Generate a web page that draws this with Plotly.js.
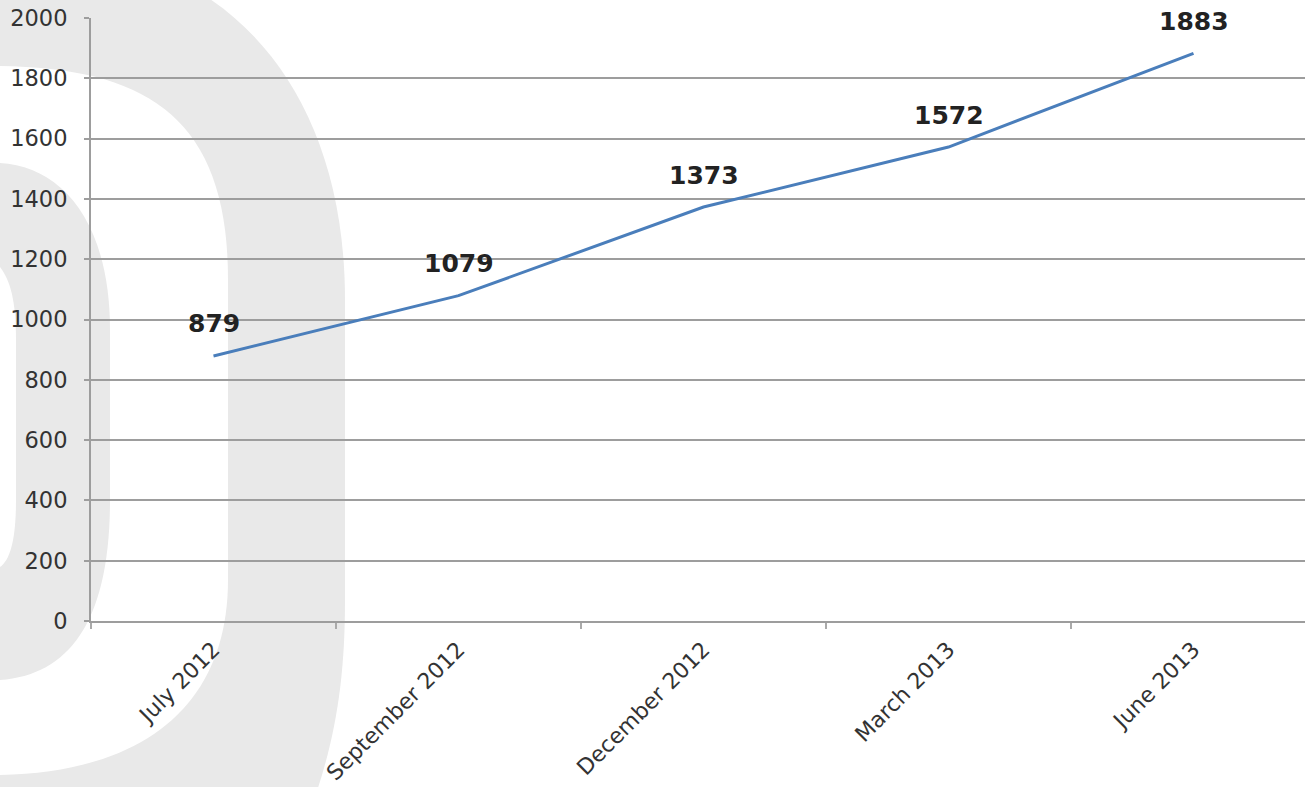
<!DOCTYPE html>
<html>
<head>
<meta charset="utf-8">
<script src="https://cdn.plot.ly/plotly-3.0.1.min.js"></script>
<style>
  html, body { margin: 0; padding: 0; background: #ffffff; }
  #chart { width: 1305px; height: 787px; }
</style>
</head>
<body>
<div id="chart"></div>
<script>
// ---- data ----
const categories = ["July 2012", "September 2012", "December 2012", "March 2013", "June 2013"];
const values = [879, 1079, 1373, 1572, 1883];
const yTickValues = [0, 200, 400, 600, 800, 1000, 1200, 1400, 1600, 1800, 2000];

// ---- layout geometry ----
const FIG_W = 1305, FIG_H = 787;
const M = { l: 91, r: 0, t: 18, b: 166 };
const PW = FIG_W - M.l - M.r, PH = FIG_H - M.t - M.b;

// background watermark shapes described in pixel space, converted to paper coords
function toPaper(cmds) {
  return cmds.map(c => {
    const op = c[0], pts = c[1] || [];
    let s = op;
    for (let i = 0; i < pts.length; i += 2) {
      const x = (pts[i] - M.l) / PW;
      const y = (M.t + PH - pts[i + 1]) / PH;
      s += (i ? ' ' : '') + x.toFixed(5) + ',' + y.toFixed(5);
    }
    return s;
  }).join(' ');
}
const bandOuter = [
  ['M', [345, 300]], ['C', [345, 110, 250, -10, 120, -40]], ['L', [-60, -40]],
  ['L', [-60, 860]], ['L', [290, 860]], ['C', [330, 770, 345, 700, 345, 600]], ['Z']
];
const bandInner = [
  ['M', [-60, 66]], ['L', [0, 66]], ['C', [150, 68, 228, 120, 228, 280]],
  ['L', [228, 580]], ['C', [228, 700, 150, 772, 0, 775]], ['L', [-60, 775]], ['Z']
];
const blobOuter = [
  ['M', [-60, 163]], ['L', [0, 163]], ['C', [60, 166, 110, 220, 110, 330]],
  ['L', [110, 500]], ['C', [110, 620, 70, 675, 0, 680]], ['L', [-60, 680]], ['Z']
];
const blobInner = [
  ['M', [-60, 267]], ['L', [0, 267]], ['C', [10, 280, 16, 300, 16, 340]],
  ['L', [16, 500]], ['C', [16, 540, 10, 560, 0, 567]], ['L', [-60, 567]], ['Z']
];
const WM = '#e9e9e9';
function shp(cmds, color) {
  return { type: 'path', xref: 'paper', yref: 'paper', layer: 'below',
           path: toPaper(cmds), fillcolor: color, line: { width: 0 } };
}
const shapes = [shp(bandOuter, WM), shp(bandInner, '#ffffff'), shp(blobOuter, WM), shp(blobInner, '#ffffff')];

const GRID = '#9d9d9d';
const trace = {
  type: 'scatter', mode: 'lines',
  x: categories, y: values,
  line: { color: '#4a7ebb', width: 3 },
  hoverinfo: 'skip', showlegend: false
};

const annotations = categories.map((c, i) => ({
  x: c, y: values[i], xref: 'x', yref: 'y',
  text: String(values[i]), showarrow: false,
  xanchor: 'center', yanchor: 'middle', yshift: 32,
  font: { family: 'DejaVu Sans', size: 25, color: '#222222', weight: 'bold' }
}));

const layout = {
  width: FIG_W, height: FIG_H,
  margin: M,
  paper_bgcolor: '#ffffff',
  plot_bgcolor: 'rgba(0,0,0,0)',
  font: { family: 'DejaVu Sans', color: '#333333' },
  showlegend: false,
  hovermode: false,
  xaxis: {
    type: 'category',
    categoryorder: 'array', categoryarray: categories,
    range: [-0.5, -0.5 + PW / 245],
    showgrid: false, zeroline: false,
    showline: true, linecolor: GRID, linewidth: 2,
    ticks: 'outside', tickson: 'boundaries', ticklen: 6, tickcolor: '#aaaaaa', tickwidth: 2,
    tickangle: -45,
    ticklabelstandoff: 5,
    tickfont: { family: 'DejaVu Sans', size: 22, color: '#333333' },
    fixedrange: true
  },
  yaxis: {
    range: [0, 2000],
    tickvals: yTickValues,
    ticktext: yTickValues.map(String),
    showgrid: true, gridcolor: GRID, gridwidth: 2,
    zeroline: false,
    showline: true, linecolor: GRID, linewidth: 2,
    ticks: 'outside', ticklen: 5, tickcolor: GRID, tickwidth: 2,
    ticklabelstandoff: 12,
    tickfont: { family: 'DejaVu Sans', size: 22.5, color: '#333333' },
    fixedrange: true
  },
  shapes: shapes,
  annotations: annotations
};

Plotly.newPlot('chart', [trace], layout, { displayModeBar: false, staticPlot: true });
</script>
</body>
</html>
